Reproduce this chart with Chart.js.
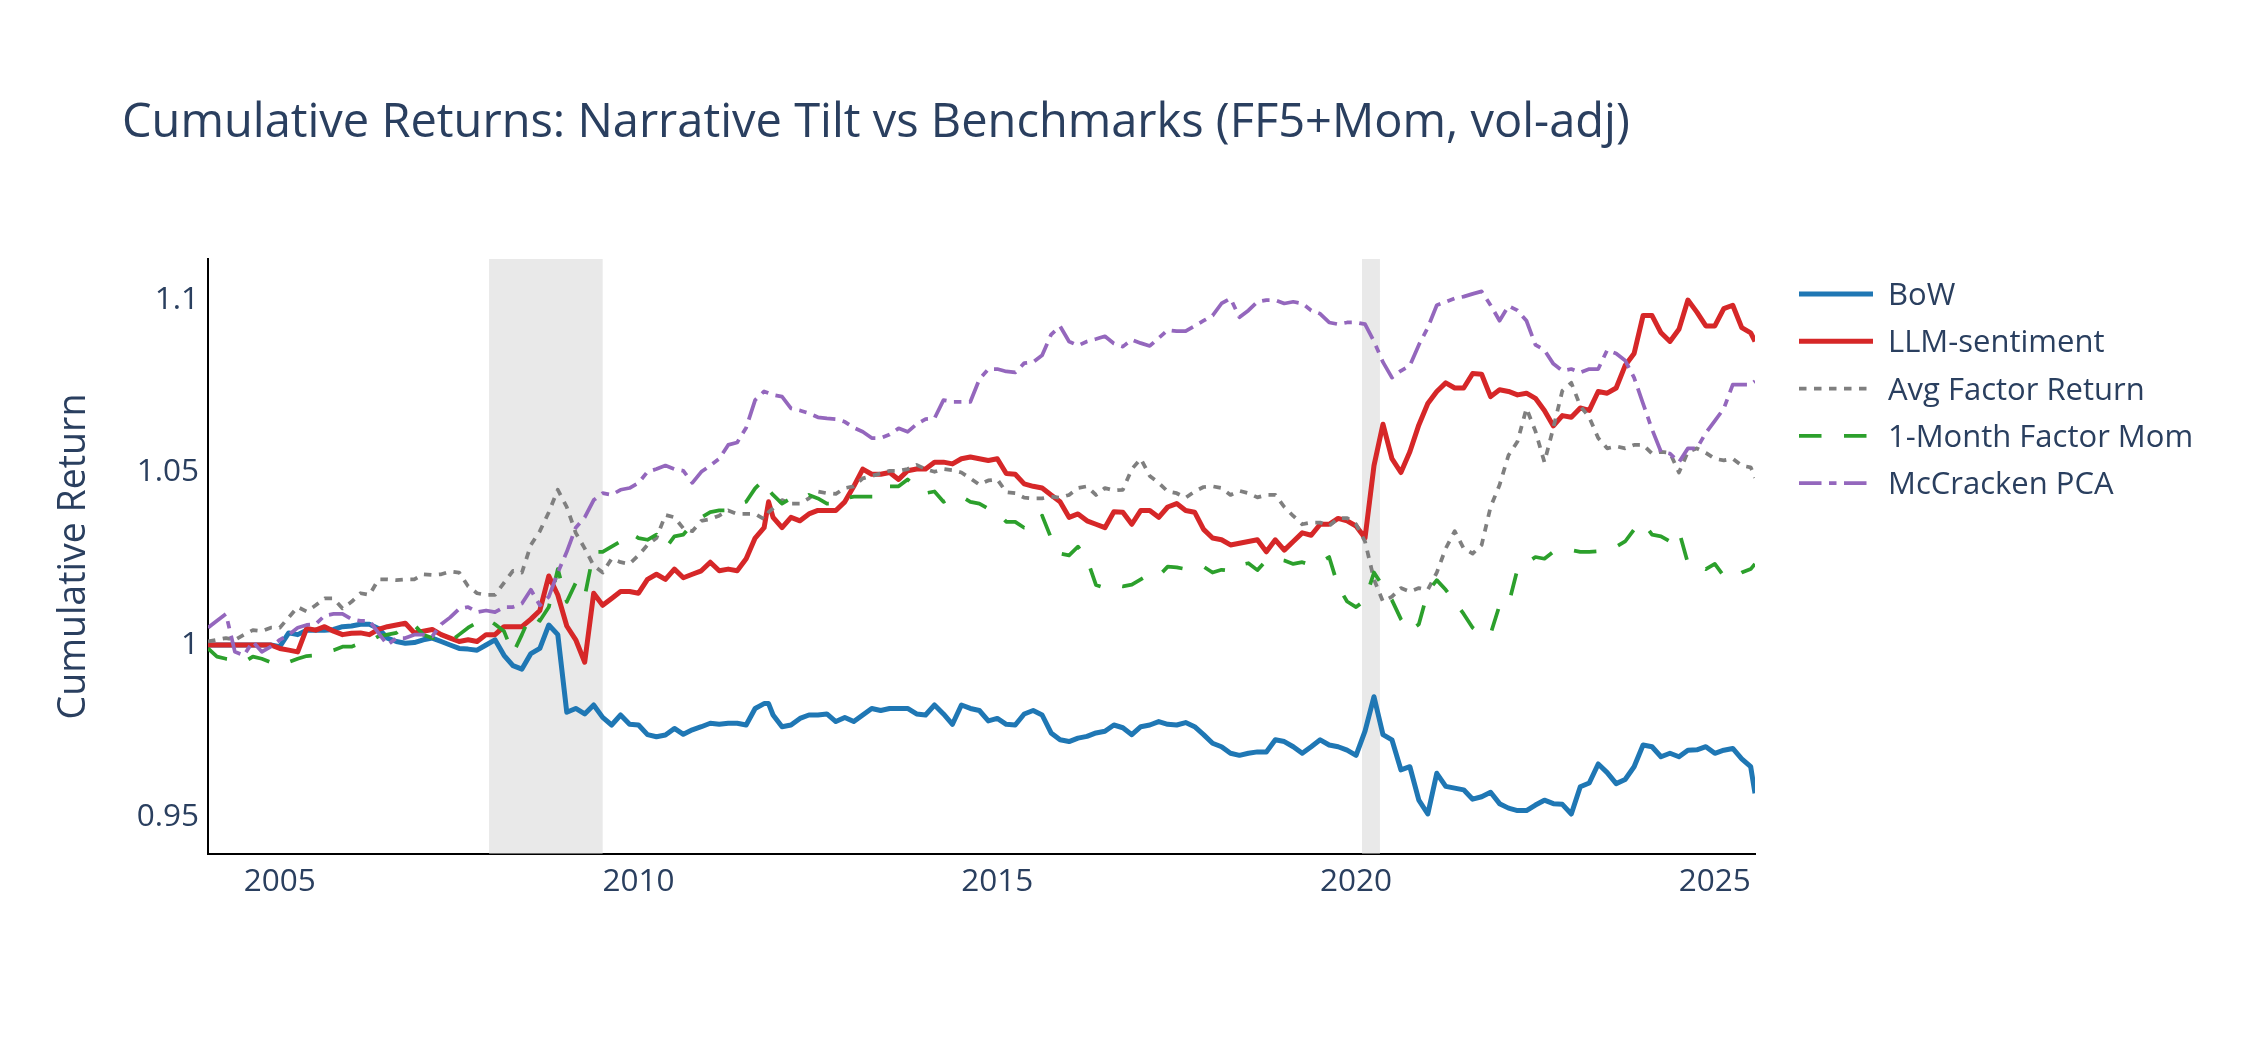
<!DOCTYPE html>
<html lang="en">
<head>
    <meta charset="UTF-8">
    <title>Cumulative Returns</title>
    <script src="https://cdn.jsdelivr.net/npm/chart.js"></script>
    <style>
        body { margin: 0; background: #fff; }
        #chart { display: block; }
    </style>
</head>
<body>
    <canvas id="chart" width="2250" height="1050"></canvas>

    <script>
        // dates as decimal years, one row per year (shared by all series)
        const dates = [
            2004.0, 2004.125, 2004.25, 2004.375, 2004.5, 2004.625, 2004.75, 2004.875,
            2005.0, 2005.125, 2005.25, 2005.375, 2005.5, 2005.625, 2005.75, 2005.875,
            2006.0, 2006.125, 2006.25, 2006.375, 2006.5, 2006.625, 2006.75, 2006.875,
            2007.0, 2007.125, 2007.25, 2007.375, 2007.5, 2007.625, 2007.75, 2007.875,
            2008.0, 2008.125, 2008.25, 2008.375, 2008.5, 2008.625, 2008.75, 2008.875,
            2009.0, 2009.125, 2009.25, 2009.375, 2009.5, 2009.625, 2009.75, 2009.875,
            2010.0, 2010.125, 2010.25, 2010.375, 2010.5, 2010.625, 2010.75, 2010.875,
            2011.0, 2011.125, 2011.25, 2011.375, 2011.5, 2011.625, 2011.75, 2011.8125, 2011.875,
            2012.0, 2012.125, 2012.25, 2012.375, 2012.5, 2012.625, 2012.75, 2012.875,
            2013.0, 2013.125, 2013.25, 2013.375, 2013.5, 2013.625, 2013.75, 2013.875,
            2014.0, 2014.125, 2014.25, 2014.375, 2014.5, 2014.625, 2014.75, 2014.875,
            2015.0, 2015.125, 2015.25, 2015.375, 2015.5, 2015.625, 2015.75, 2015.875,
            2016.0, 2016.125, 2016.25, 2016.375, 2016.5, 2016.625, 2016.75, 2016.875,
            2017.0, 2017.125, 2017.25, 2017.375, 2017.5, 2017.625, 2017.75, 2017.875,
            2018.0, 2018.125, 2018.25, 2018.375, 2018.5, 2018.625, 2018.75, 2018.875,
            2019.0, 2019.125, 2019.25, 2019.375, 2019.5, 2019.625, 2019.75, 2019.875,
            2020.0, 2020.125, 2020.25, 2020.375, 2020.5, 2020.625, 2020.75, 2020.875,
            2021.0, 2021.125, 2021.25, 2021.375, 2021.5, 2021.625, 2021.75, 2021.875,
            2022.0, 2022.125, 2022.25, 2022.375, 2022.5, 2022.625, 2022.75, 2022.875,
            2023.0, 2023.125, 2023.25, 2023.375, 2023.5, 2023.625, 2023.75, 2023.875,
            2024.0, 2024.125, 2024.25, 2024.375, 2024.5, 2024.625, 2024.75, 2024.875,
            2025.0, 2025.125, 2025.25, 2025.375, 2025.5, 2025.56
        ];

        const bow = [
            1.000, 1.000, 1.000, 1.000, 1.000, 1.000, 1.000, 1.000,
            0.9995, 1.0035, 1.003, 1.0043, 1.0043, 1.0043, 1.0045, 1.0053,
            1.0055, 1.006, 1.006, 1.0048, 1.002, 1.001, 1.0005, 1.0007,
            1.0015, 1.002, 1.001, 1.000, 0.999, 0.9988, 0.9985, 1.000,
            1.0015, 0.997, 0.994, 0.993, 0.9975, 0.999, 1.0058, 1.003,
            0.9805, 0.9816, 0.980, 0.9826, 0.979, 0.9768, 0.9797, 0.977,
            0.9768, 0.974, 0.9734, 0.9739, 0.9758, 0.9741, 0.9754, 0.9763,
            0.9773, 0.977, 0.9773, 0.9773, 0.9768, 0.9816, 0.983, 0.983, 0.9797,
            0.9763, 0.9768, 0.9787, 0.9797, 0.9797, 0.980, 0.9778, 0.979,
            0.9778, 0.9797, 0.9816, 0.981, 0.9816, 0.9816, 0.9816, 0.980,
            0.9797, 0.9826, 0.980, 0.977, 0.9826, 0.9816, 0.981, 0.978,
            0.9787, 0.977, 0.9768, 0.980, 0.981, 0.9797, 0.9745, 0.9725,
            0.972, 0.973, 0.9735, 0.9745, 0.975, 0.9768, 0.976, 0.974,
            0.9763, 0.9768, 0.9778, 0.977, 0.9768, 0.9775, 0.9763, 0.974,
            0.9715, 0.9705, 0.9686, 0.968, 0.9686, 0.969, 0.969, 0.9725,
            0.972, 0.9705, 0.9686, 0.9705, 0.9725, 0.971, 0.9705, 0.9695,
            0.968, 0.975, 0.985, 0.974, 0.9725, 0.9638, 0.9647, 0.955,
            0.951, 0.9628, 0.959, 0.9585, 0.958, 0.9553, 0.956, 0.9573,
            0.954, 0.9527, 0.952, 0.952, 0.9536, 0.955, 0.954, 0.9538,
            0.951, 0.9589, 0.960, 0.9655, 0.963, 0.9598, 0.961, 0.9647,
            0.971, 0.9705, 0.9676, 0.9686, 0.9676, 0.9695, 0.9696, 0.9705,
            0.9686, 0.9695, 0.970, 0.967, 0.9647, 0.957
        ];

        const llmSentiment = [
            1.000, 1.000, 1.000, 1.000, 1.000, 1.000, 1.000, 1.000,
            0.999, 0.9985, 0.998, 1.0048, 1.0043, 1.0053, 1.004, 1.003,
            1.0034, 1.0035, 1.003, 1.0045, 1.0053, 1.0058, 1.0063, 1.0035,
            1.004, 1.0045, 1.003, 1.002, 1.001, 1.0015, 1.001, 1.003,
            1.003, 1.0053, 1.0053, 1.0053, 1.0075, 1.010, 1.020, 1.0145,
            1.0055, 1.0015, 0.995, 1.015, 1.0115, 1.0135, 1.0155, 1.0155,
            1.015, 1.019, 1.0205, 1.019, 1.022, 1.0195, 1.0205, 1.0215,
            1.024, 1.0215, 1.022, 1.0215, 1.025, 1.031, 1.034, 1.0415, 1.037,
            1.034, 1.037, 1.036, 1.038, 1.039, 1.039, 1.039, 1.0415,
            1.046, 1.051, 1.0495, 1.0495, 1.050, 1.048, 1.0505, 1.051,
            1.051, 1.053, 1.053, 1.0525, 1.054, 1.0545, 1.054, 1.0535,
            1.054, 1.0497, 1.0495, 1.0467, 1.046, 1.0455, 1.0435, 1.0415,
            1.037, 1.038, 1.036, 1.035, 1.034, 1.0386, 1.0385, 1.035,
            1.039, 1.039, 1.037, 1.040, 1.041, 1.039, 1.0385, 1.0335,
            1.031, 1.0305, 1.029, 1.0295, 1.030, 1.0305, 1.027, 1.0305,
            1.0275, 1.030, 1.0325, 1.0318, 1.035, 1.035, 1.0367, 1.036,
            1.0345, 1.031, 1.052, 1.064, 1.054, 1.050, 1.056, 1.0638,
            1.070, 1.0735, 1.076, 1.0745, 1.0745, 1.0787, 1.0785, 1.072,
            1.074, 1.0735, 1.0725, 1.073, 1.0715, 1.068, 1.0635, 1.0665,
            1.066, 1.0687, 1.068, 1.0735, 1.073, 1.0745, 1.081, 1.0845,
            1.0955, 1.0955, 1.0905, 1.088, 1.0915, 1.100, 1.0965, 1.0925,
            1.0925, 1.0975, 1.0985, 1.092, 1.0905, 1.088
        ];

        const avgFactor = [
            1.001, 1.0015, 1.002, 1.0015, 1.003, 1.0043, 1.004, 1.005,
            1.005, 1.008, 1.011, 1.0097, 1.0115, 1.0135, 1.0135, 1.0106,
            1.0125, 1.015, 1.0145, 1.019, 1.019, 1.0188, 1.019, 1.019,
            1.0205, 1.0203, 1.0205, 1.0213, 1.021, 1.017, 1.015, 1.0145,
            1.0145, 1.018, 1.0215, 1.021, 1.029, 1.033, 1.0385, 1.045,
            1.040, 1.0325, 1.028, 1.023, 1.021, 1.025, 1.024, 1.0235,
            1.026, 1.029, 1.031, 1.0377, 1.037, 1.0338, 1.033, 1.036,
            1.0365, 1.0375, 1.039, 1.038, 1.038, 1.038, 1.0365, 1.0385, 1.0396,
            1.042, 1.041, 1.041, 1.0425, 1.0445, 1.044, 1.0438, 1.0455,
            1.046, 1.0483, 1.049, 1.0497, 1.0505, 1.0505, 1.051, 1.0522,
            1.051, 1.0502, 1.051, 1.0507, 1.050, 1.0483, 1.0465, 1.0477,
            1.048, 1.0443, 1.044, 1.0427, 1.0425, 1.0425, 1.043, 1.0427,
            1.0435, 1.0455, 1.046, 1.0435, 1.0455, 1.0448, 1.045, 1.051,
            1.054, 1.049, 1.047, 1.0445, 1.044, 1.0427, 1.0445, 1.0458,
            1.046, 1.0455, 1.0435, 1.0447, 1.044, 1.0428, 1.0435, 1.0435,
            1.040, 1.0374, 1.035, 1.0355, 1.0355, 1.0345, 1.0367, 1.0368,
            1.035, 1.030, 1.019, 1.0126, 1.014, 1.0165, 1.0155, 1.0165,
            1.016, 1.021, 1.028, 1.033, 1.028, 1.0265, 1.029, 1.040,
            1.0464, 1.055, 1.059, 1.0686, 1.062, 1.053, 1.063, 1.0737,
            1.076, 1.0693, 1.066, 1.060, 1.057, 1.0576, 1.057, 1.058,
            1.058, 1.0555, 1.056, 1.0557, 1.050, 1.056, 1.057, 1.0557,
            1.054, 1.0535, 1.054, 1.052, 1.0515, 1.0485
        ];

        const factorMom = [
            0.999, 0.9966, 0.996, 0.9957, 0.995, 0.9966, 0.996, 0.995,
            0.994, 0.995, 0.996, 0.9968, 0.997, 0.998, 0.9985, 0.9995,
            0.9995, 1.0005, 1.001, 1.0025, 1.003, 1.0035, 1.006, 1.0058,
            1.003, 1.002, 1.002, 1.001, 1.003, 1.005, 1.0065, 1.0077,
            1.006, 1.004, 0.9975, 1.003, 1.009, 1.007, 1.011, 1.022,
            1.0125, 1.018, 1.014, 1.027, 1.027, 1.0285, 1.030, 1.0325,
            1.031, 1.0305, 1.032, 1.028, 1.0315, 1.032, 1.035, 1.037,
            1.0385, 1.039, 1.039, 1.0406, 1.0415, 1.0454, 1.048, 1.045, 1.0435,
            1.041, 1.0425, 1.042, 1.0435, 1.0425, 1.041, 1.041, 1.0425,
            1.043, 1.043, 1.043, 1.043, 1.046, 1.046, 1.048, 1.0455,
            1.044, 1.0445, 1.0415, 1.043, 1.043, 1.0415, 1.041, 1.0395,
            1.0385, 1.0357, 1.0357, 1.034, 1.034, 1.0375, 1.031, 1.0265,
            1.026, 1.0285, 1.025, 1.0174, 1.0165, 1.0174, 1.017, 1.0175,
            1.019, 1.0205, 1.020, 1.0227, 1.0225, 1.022, 1.0227, 1.0227,
            1.021, 1.0218, 1.0215, 1.0232, 1.0237, 1.0217, 1.0245, 1.025,
            1.0245, 1.0235, 1.024, 1.0232, 1.024, 1.0255, 1.017, 1.0126,
            1.011, 1.013, 1.021, 1.017, 1.013, 1.0075, 1.004, 1.006,
            1.0155, 1.0188, 1.016, 1.0126, 1.009, 1.005, 1.003, 1.0032,
            1.0115, 1.0117, 1.022, 1.0237, 1.0255, 1.025, 1.027, 1.0275,
            1.0275, 1.027, 1.027, 1.0272, 1.028, 1.0285, 1.030, 1.0335,
            1.0355, 1.032, 1.0315, 1.030, 1.033, 1.0237, 1.0235, 1.022,
            1.0235, 1.020, 1.0195, 1.021, 1.022, 1.0235
        ];

        const mccracken = [
            1.005, 1.007, 1.009, 0.998, 0.997, 1.001, 0.998, 0.9995,
            1.0015, 1.003, 1.005, 1.0058, 1.006, 1.0085, 1.009, 1.009,
            1.0075, 1.007, 1.007, 1.0035, 1.000, 1.002, 1.002, 1.003,
            1.003, 1.0025, 1.006, 1.008, 1.0105, 1.011, 1.0095, 1.010,
            1.0095, 1.011, 1.011, 1.012, 1.016, 1.0115, 1.014, 1.021,
            1.027, 1.034, 1.037, 1.042, 1.044, 1.0435, 1.045, 1.0455,
            1.047, 1.0502, 1.051, 1.052, 1.051, 1.0505, 1.047, 1.0502,
            1.052, 1.054, 1.058, 1.0587, 1.063, 1.071, 1.0735, 1.073, 1.0725,
            1.072, 1.0686, 1.068, 1.0672, 1.066, 1.0657, 1.0655, 1.0647,
            1.063, 1.0618, 1.060, 1.060, 1.061, 1.0628, 1.0618, 1.064,
            1.0655, 1.0657, 1.071, 1.0705, 1.0705, 1.0705, 1.077, 1.080,
            1.080, 1.0793, 1.079, 1.0817, 1.082, 1.084, 1.090, 1.0924,
            1.088, 1.0868, 1.088, 1.0887, 1.0895, 1.0874, 1.0865, 1.0885,
            1.0875, 1.0867, 1.089, 1.0913, 1.091, 1.091, 1.0925, 1.094,
            1.0955, 1.099, 1.1005, 1.095, 1.097, 1.0995, 1.100, 1.100,
            1.099, 1.0995, 1.099, 1.097, 1.096, 1.0935, 1.093, 1.0935,
            1.0935, 1.093, 1.088, 1.082, 1.0775, 1.0795, 1.081, 1.087,
            1.092, 1.0985, 1.0995, 1.1005, 1.101, 1.1018, 1.1025, 1.0985,
            1.094, 1.0983, 1.097, 1.094, 1.087, 1.0855, 1.0815, 1.0795,
            1.080, 1.079, 1.080, 1.080, 1.0855, 1.0845, 1.0825, 1.0775,
            1.070, 1.0625, 1.056, 1.0555, 1.053, 1.057, 1.057, 1.0615,
            1.065, 1.0685, 1.0755, 1.0755, 1.0755, 1.0765
        ];

        // shaded recession periods
        const recessionStart = [2007.917, 2020.083];
        const recessionEnd = [2009.5, 2020.333];

        const xTicks = [2005, 2010, 2015, 2020, 2025];
        const yTicks = [0.95, 1, 1.05, 1.1];

        const seriesNames = ['BoW', 'LLM-sentiment', 'Avg Factor Return', '1-Month Factor Mom', 'McCracken PCA'];

        const textColor = '#2a3f5f';
        const fontFamily = '"Open Sans", "DejaVu Sans", sans-serif';
        Chart.defaults.font.family = fontFamily;
        Chart.defaults.color = textColor;

        function toPoints(values) {
            return values.map((v, i) => ({ x: dates[i], y: v }));
        }

        // grey recession bands under the lines
        const recessionBands = {
            id: 'recessionBands',
            beforeDatasetsDraw(chart) {
                const { ctx, chartArea, scales } = chart;
                ctx.save();
                ctx.fillStyle = 'rgba(211, 211, 211, 0.5)';
                for (let i = 0; i < recessionStart.length; i++) {
                    const x0 = scales.x.getPixelForValue(recessionStart[i]);
                    const x1 = scales.x.getPixelForValue(recessionEnd[i]);
                    ctx.fillRect(x0, chartArea.top, x1 - x0, chartArea.bottom - chartArea.top);
                }
                ctx.restore();
            }
        };

        // title + legend drawn like the plotly original
        const titleAndLegend = {
            id: 'titleAndLegend',
            afterDraw(chart) {
                const ctx = chart.ctx;
                ctx.save();
                ctx.fillStyle = textColor;
                ctx.font = '47px ' + fontFamily;
                ctx.textBaseline = 'alphabetic';
                ctx.fillText('Cumulative Returns: Narrative Tilt vs Benchmarks (FF5+Mom, vol-adj)', 122, 137);

                chart.data.datasets.forEach((ds, row) => {
                    const y = 294 + row * 47.3;
                    ctx.beginPath();
                    ctx.setLineDash(ds.borderDash || []);
                    ctx.lineWidth = ds.borderWidth;
                    ctx.strokeStyle = ds.borderColor;
                    ctx.moveTo(1799, y);
                    ctx.lineTo(1873, y);
                    ctx.stroke();
                    ctx.setLineDash([]);
                    ctx.fillStyle = textColor;
                    ctx.font = '31px ' + fontFamily;
                    ctx.fillText(ds.label, 1888, y + 11);
                });
                ctx.restore();
            }
        };

        const ctx = document.getElementById('chart').getContext('2d');
        new Chart(ctx, {
            type: 'line',
            data: {
                datasets: [
                    {
                        label: seriesNames[0],
                        data: toPoints(bow),
                        borderColor: '#1f77b4',
                        borderWidth: 5,
                        order: 4
                    },
                    {
                        label: seriesNames[1],
                        data: toPoints(llmSentiment),
                        borderColor: '#d62728',
                        borderWidth: 5,
                        order: 3
                    },
                    {
                        label: seriesNames[2],
                        data: toPoints(avgFactor),
                        borderColor: '#7f7f7f',
                        borderWidth: 3.75,
                        borderDash: [7.5, 7.5],
                        order: 2
                    },
                    {
                        label: seriesNames[3],
                        data: toPoints(factorMom),
                        borderColor: '#2ca02c',
                        borderWidth: 3.75,
                        borderDash: [22.5, 22.5],
                        order: 1
                    },
                    {
                        label: seriesNames[4],
                        data: toPoints(mccracken),
                        borderColor: '#9467bd',
                        borderWidth: 3.75,
                        borderDash: [22.5, 7.5, 7.5, 7.5],
                        order: 0
                    }
                ]
            },
            options: {
                responsive: false,
                animation: false,
                devicePixelRatio: 1,
                layout: {
                    padding: { left: 38, right: 495, top: 259, bottom: 0 }
                },
                elements: {
                    point: { radius: 0 },
                    line: { tension: 0, borderJoinStyle: 'round', borderCapStyle: 'butt' }
                },
                plugins: {
                    legend: { display: false },
                    title: { display: false },
                    tooltip: { enabled: false }
                },
                scales: {
                    x: {
                        type: 'linear',
                        min: 2004.0,
                        max: 2025.56,
                        grid: { display: false, drawTicks: false },
                        border: { display: true, color: '#000', width: 2 },
                        afterBuildTicks: scale => { scale.ticks = xTicks.map(v => ({ value: v })); },
                        afterFit: scale => { scale.height = 196; },
                        ticks: {
                            padding: 9,
                            maxRotation: 0,
                            autoSkip: false,
                            font: { size: 31.5 },
                            color: textColor,
                            callback: value => String(value)
                        }
                    },
                    y: {
                        type: 'linear',
                        min: 0.9394,
                        max: 1.1119,
                        grid: { display: false, drawTicks: false },
                        border: { display: true, color: '#000', width: 2 },
                        afterBuildTicks: scale => { scale.ticks = yTicks.map(v => ({ value: v })); },
                        afterFit: scale => { scale.width = 170; },
                        ticks: {
                            padding: 9,
                            autoSkip: false,
                            font: { size: 31.5 },
                            color: textColor,
                            callback: value => String(value)
                        },
                        title: {
                            display: true,
                            text: 'Cumulative Return',
                            font: { size: 37.5 },
                            color: textColor,
                            padding: { top: 14, bottom: 0 }
                        }
                    }
                }
            },
            plugins: [recessionBands, titleAndLegend]
        });
    </script>
</body>
</html>
